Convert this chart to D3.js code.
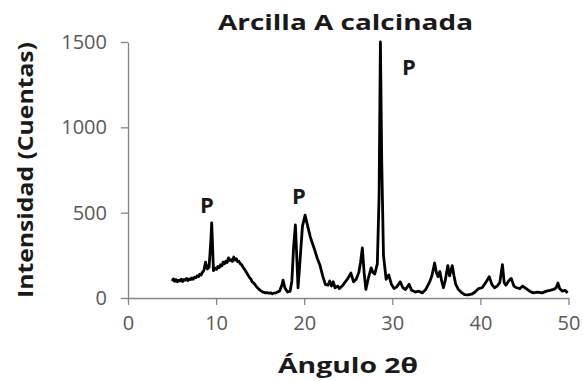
<!DOCTYPE html>
<html>
<head>
<meta charset="utf-8">
<script src="https://cdn.jsdelivr.net/npm/d3@7"></script>
<style>
  body { margin: 0; background: #fff; }
  svg text { font-family: "Open Sans", "DejaVu Sans", sans-serif; }
</style>
</head>
<body>
<svg id="chart" width="583" height="381"></svg>
<script>
// diffraction pattern
var angles = [5.0, 5.15, 5.3, 5.45, 5.6, 5.75, 5.9, 6.05, 6.2, 6.35, 6.5, 6.65, 6.8, 6.95, 7.1, 7.25, 7.4, 7.55, 7.7, 7.85,
  8.0, 8.15, 8.3, 8.45, 8.6, 8.8, 9.0, 9.2, 9.4, 9.5, 9.6, 9.7,
  9.9, 10.05, 10.2, 10.35, 10.5, 10.65, 10.8, 10.95, 11.1, 11.25, 11.4, 11.55, 11.7, 11.85, 12.0, 12.15, 12.3, 12.45, 12.6, 12.75, 12.9,
  13.05, 13.2, 13.35, 13.5, 13.65, 13.8, 13.95, 14.1, 14.25, 14.4, 14.55, 14.7, 14.85, 15.0, 15.15, 15.3, 15.45, 15.6,
  15.8, 16.0, 16.2, 16.4, 16.6, 16.8, 17.0, 17.2, 17.5, 17.6, 17.8, 18.1, 18.4, 18.6, 18.8, 19.0, 19.15, 19.3, 19.5, 19.8, 20.1, 20.4, 20.7, 21.0,
  21.2, 21.5, 21.8, 22.1, 22.4, 22.7, 22.9, 23.1, 23.3, 23.5, 23.8, 24.0, 24.3, 24.6, 24.9, 25.3, 25.6, 25.9, 26.2, 26.4,
  26.6, 26.8, 27.0, 27.3, 27.6, 27.8, 28.0, 28.3, 28.5, 28.65, 28.8, 29.0, 29.3, 29.6, 29.9, 30.2, 30.5, 30.9, 31.2, 31.5,
  31.9, 32.2, 32.6, 33.0, 33.4, 33.8, 34.2, 34.5, 34.8, 35.0, 35.2, 35.4, 35.6, 35.8, 36.0, 36.3, 36.5, 36.8, 37.0, 37.2,
  37.5, 37.8, 38.2, 38.6, 39.0, 39.4, 39.8, 40.2, 40.6, 41.0, 41.3, 41.6, 41.9, 42.2, 42.5, 42.7, 42.9, 43.2, 43.5, 43.8,
  44.1, 44.5, 44.8, 45.2, 45.6, 46.0, 46.5, 47.0, 47.5, 47.9, 48.3, 48.6, 48.8, 49.0, 49.3, 49.6, 49.9];
var counts = [100, 112, 98, 108, 95, 104, 100, 110, 97, 108, 104, 115, 102, 112, 108, 118, 110, 122, 118, 130,
  125, 140, 135, 150, 160, 210, 170, 180, 330, 440, 300, 160,
  175, 168, 185, 178, 195, 188, 210, 200, 215, 208, 235, 220, 225, 215, 240, 222, 230, 212, 215, 200, 195,
  182, 170, 158, 145, 132, 120, 110, 95, 88, 80, 68, 60, 52, 45, 40, 35, 33, 30,
  32, 28, 30, 25, 29, 30, 36, 40, 80, 105, 60, 35, 40, 100, 300, 428, 250, 60, 200, 420, 486, 420, 357, 310,
  280, 230, 190, 130, 80, 75, 100, 70, 95, 60, 70, 55, 70, 90, 110, 146, 95, 110, 150, 210,
  293, 150, 50, 120, 176, 150, 140, 200, 600, 1500, 800, 250, 110, 135, 80, 55, 65, 95, 60, 50,
  80, 45, 35, 40, 30, 50, 90, 130, 205, 150, 125, 155, 100, 60, 100, 190, 130, 190, 130, 80,
  50, 35, 20, 18, 22, 35, 55, 60, 90, 125, 80, 60, 70, 90, 195, 90, 75, 100, 115, 70,
  60, 55, 70, 55, 40, 30, 35, 30, 40, 45, 50, 60, 88, 55, 40, 45, 30];

var xTicks = [0, 10, 20, 30, 40, 50];
var yTicks = [0, 500, 1000, 1500];

// peak markers (angle, counts at text baseline)
var markAngles = [8.97, 19.4, 31.9];
var markCounts = [498, 551, 1306];
var markText = ["P", "P", "P"];

var svg = d3.select("#chart");

var x = d3.scaleLinear().domain([0, 50]).range([128, 568.5]);
var y = d3.scaleLinear().domain([0, 1500]).range([298, 42]);

var axisColor = "#868686";
var labelColor = "#595959";

// x axis
var gx = svg.append("g")
  .attr("transform", "translate(0," + y(0) + ")")
  .call(d3.axisBottom(x).tickValues(xTicks).tickFormat(d3.format("d")).tickSize(7).tickPadding(11).tickSizeOuter(0));
gx.select(".domain").attr("stroke", axisColor).attr("stroke-width", 1.3);
gx.selectAll(".tick line").attr("stroke", axisColor).attr("stroke-width", 1.3);
gx.selectAll(".tick text").attr("fill", labelColor).style("font-size", "20px");

// y axis
var gy = svg.append("g")
  .attr("transform", "translate(" + x(0) + ",0)")
  .call(d3.axisLeft(y).tickValues(yTicks).tickFormat(d3.format("d")).tickSize(7).tickPadding(14).tickSizeOuter(0));
gy.select(".domain").attr("stroke", axisColor).attr("stroke-width", 1.3);
gy.selectAll(".tick line").attr("stroke", axisColor).attr("stroke-width", 1.3);
gy.selectAll(".tick text").attr("fill", labelColor).style("font-size", "20px");

// the pattern
var pts = angles.map(function(a, i) { return [a, counts[i]]; });
var line = d3.line()
  .x(function(d) { return x(d[0]); })
  .y(function(d) { return y(d[1]); });

svg.append("path")
  .datum(pts)
  .attr("d", line)
  .attr("fill", "none")
  .attr("stroke", "#000")
  .attr("stroke-width", 2.8)
  .attr("stroke-linejoin", "round");

// P labels
svg.selectAll(".mark")
  .data(markText)
  .enter()
  .append("text")
  .attr("class", "mark")
  .attr("x", function(d, i) { return x(markAngles[i]); })
  .attr("y", function(d, i) { return y(markCounts[i]); })
  .attr("text-anchor", "middle")
  .attr("fill", "#1a1a1a")
  .style("font-size", "22px")
  .style("font-weight", "bold")
  .text(function(d) { return d; });

// title
svg.append("text")
  .attr("x", 345.5).attr("y", 30)
  .attr("text-anchor", "middle")
  .attr("fill", "#1a1a1a")
  .style("font-size", "21px")
  .style("font-weight", "bold")
  .attr("textLength", 255).attr("lengthAdjust", "spacingAndGlyphs")
  .text("Arcilla A calcinada");

// axis titles
svg.append("text")
  .attr("x", 348).attr("y", 373)
  .attr("text-anchor", "middle")
  .attr("fill", "#1a1a1a")
  .style("font-size", "22px")
  .style("font-weight", "bold")
  .attr("textLength", 140).attr("lengthAdjust", "spacingAndGlyphs")
  .text("Ángulo 2θ");

svg.append("text")
  .attr("transform", "translate(33,170) rotate(-90)")
  .attr("text-anchor", "middle")
  .attr("fill", "#1a1a1a")
  .style("font-size", "21px")
  .style("font-weight", "bold")
  .attr("textLength", 256).attr("lengthAdjust", "spacingAndGlyphs")
  .text("Intensidad (Cuentas)");
</script>
</body>
</html>
